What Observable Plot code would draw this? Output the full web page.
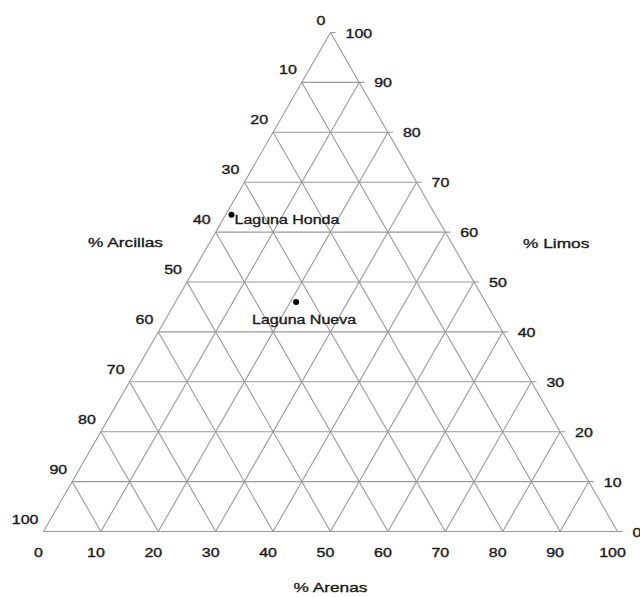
<!DOCTYPE html>
<html>
<head>
<meta charset="utf-8">
<script src="https://cdn.jsdelivr.net/npm/d3@7"></script>
<script src="https://cdn.jsdelivr.net/npm/@observablehq/plot@0.6"></script>
<style>
  html, body { margin: 0; padding: 0; background: #fff; }
  #chart svg { display: block; }
</style>
</head>
<body>
<div id="chart"></div>
<script>
// Soil texture triangle: sand (Arenas), silt (Limos), clay (Arcillas), in percent.
const ticks = [0, 10, 20, 30, 40, 50, 60, 70, 80, 90, 100];

const sampleNames = ["Laguna Honda", "Laguna Nueva"];
const sampleSand  = [1, 21];
const sampleSilt  = [63.5, 46];
const sampleClay  = [35.5, 33];

const axisTitles = ["% Arcillas", "% Limos", "% Arenas"];

// Ternary -> Cartesian (x along the base, y = silt height)
const tx = (sand, silt) => sand + silt / 2;
const ty = (sand, silt) => silt;

const tickExt = 0.9; // short tick past the right edge on silt lines

// Silt lines (horizontal), from left edge to right edge
const siltLines = ticks.map(s => ({x1: s / 2, y1: s, x2: 100 - s / 2 + tickExt, y2: s}));
// Sand lines (parallel to the left edge)
const sandLines = ticks.map(a => ({x1: tx(a, 0), y1: 0, x2: tx(a, 100 - a), y2: 100 - a}));
// Clay lines (parallel to the right edge)
const clayLines = ticks.map(c => ({x1: tx(100 - c, 0), y1: 0, x2: tx(0, 100 - c), y2: 100 - c}));

const clayLabels = ticks.map(c => ({x: tx(0, 100 - c), y: 100 - c, t: String(c)}));
const siltLabels = ticks.map(s => ({x: tx(100 - s, s), y: s, t: String(s)}));
const sandLabels = ticks.map(a => ({x: tx(a, 0), y: 0, t: String(a)}));

const samples = sampleNames.map((n, i) => ({
  name: n,
  x: tx(sampleSand[i], sampleSilt[i]),
  y: ty(sampleSand[i], sampleSilt[i])
}));

const gridStyle = {stroke: "#9a9a9a", strokeWidth: 1.1};
const textStyle = {fill: "#1a1a1a", stroke: "#1a1a1a", strokeWidth: 0.35, fontSize: 12.5};
const titleStyle = {...textStyle, fontSize: 13.5};

const chart = Plot.plot({
  width: 640,
  height: 597,
  marginLeft: 43,
  marginRight: 23,
  marginTop: 32,
  marginBottom: 66,
  style: {fontFamily: "'Liberation Sans', Arial, sans-serif", background: "#fff"},
  x: {domain: [0, 100], axis: null},
  y: {domain: [0, 100], axis: null},
  marks: [
    Plot.link(sandLines, {x1: "x1", y1: "y1", x2: "x2", y2: "y2", ...gridStyle}),
    Plot.link(clayLines, {x1: "x1", y1: "y1", x2: "x2", y2: "y2", ...gridStyle}),
    Plot.link(siltLines, {x1: "x1", y1: "y1", x2: "x2", y2: "y2", ...gridStyle}),
    // tick labels on the three sides
    Plot.text(clayLabels, {x: "x", y: "y", text: "t", textAnchor: "end", dx: -5, dy: -12, ...textStyle}),
    Plot.text(siltLabels, {x: "x", y: "y", text: "t", textAnchor: "start", dx: 15, dy: 1, ...textStyle}),
    Plot.text(sandLabels, {x: "x", y: "y", text: "t", textAnchor: "middle", dx: -5, dy: 21, ...textStyle}),
    // axis titles
    Plot.text([axisTitles[0]], {x: tx(0, 58), y: 58, text: d => d, textAnchor: "end", dx: -47, dy: 1, ...titleStyle}),
    Plot.text([axisTitles[1]], {x: tx(42, 58), y: 58, text: d => d, textAnchor: "start", dx: 72, dy: 2, ...titleStyle}),
    Plot.text([axisTitles[2]], {x: 50, y: 0, text: d => d, textAnchor: "middle", dy: 56, ...titleStyle}),
    // samples
    Plot.dot(samples, {x: "x", y: "y", r: 3, fill: "#000", stroke: "none"}),
    Plot.text(samples.slice(0, 1), {x: "x", y: "y", text: "name", textAnchor: "start", dx: 3, dy: 5, ...textStyle}),
    Plot.text(samples.slice(1), {x: "x", y: "y", text: "name", textAnchor: "middle", dx: 8, dy: 18, ...textStyle})
  ]
});

// The lettering is set wide: stretch each label horizontally about its anchor.
d3.select(chart).selectAll("text").attr("transform", function () {
  return (this.getAttribute("transform") || "") + " scale(1.28,1)";
});

document.getElementById("chart").appendChild(chart);
</script>
</body>
</html>
